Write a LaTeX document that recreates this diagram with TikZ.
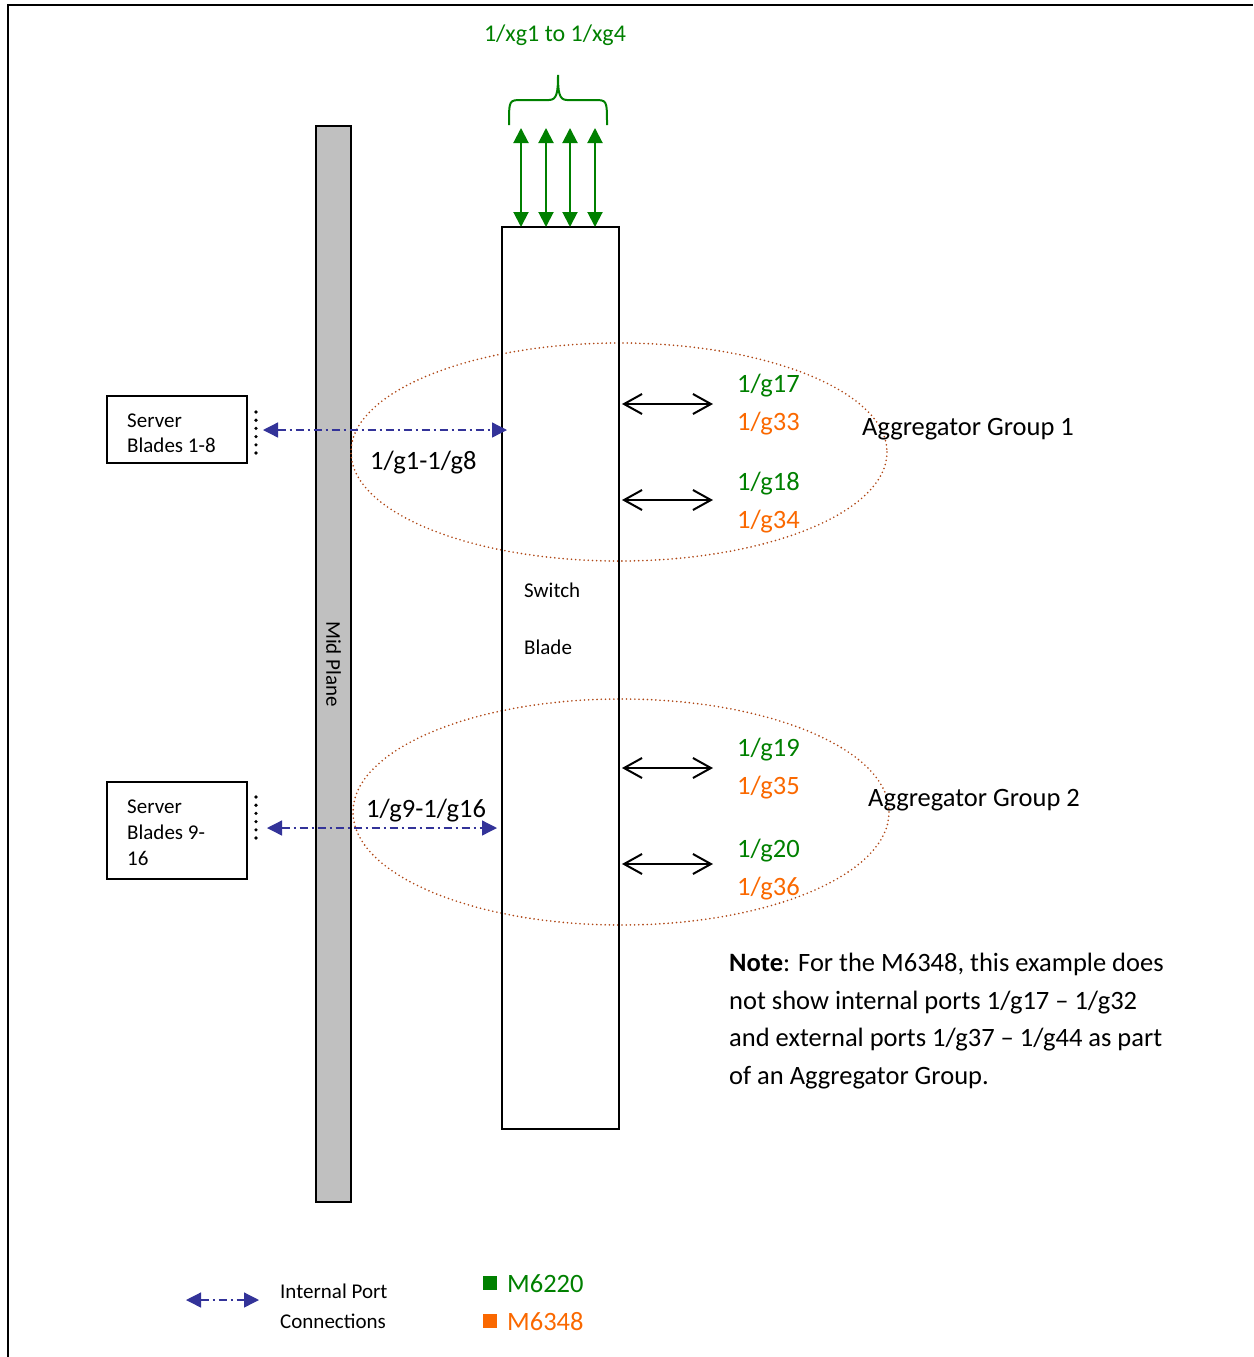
\documentclass[tikz,border=0pt]{standalone}
\usepackage{fontspec}
\setmainfont{Carlito}
\usetikzlibrary{arrows.meta}
\definecolor{pgreen}{RGB}{0,128,0}
\definecolor{porange}{RGB}{250,104,0}
\definecolor{pblue}{RGB}{51,51,153}
\definecolor{pbrown}{RGB}{175,70,20}
\definecolor{midgray}{RGB}{192,192,192}
\begin{document}
\begin{tikzpicture}[x=1pt,y=-1pt,
  big/.style={font=\fontsize{26.5}{31}\selectfont, inner sep=0pt, anchor=base west},
  small/.style={font=\fontsize{21}{25}\selectfont, inner sep=0pt, anchor=base west},
  boxnode/.style={draw, line width=1.8pt, inner sep=0pt, outer sep=0pt, anchor=north west},
  garrow/.style={pgreen, line width=2pt, {Triangle[length=15pt,width=15pt]}-{Triangle[length=15pt,width=15pt]}},
  barrow/.style={pblue, line width=1.3pt, dash pattern=on 8pt off 4pt on 2pt off 4pt, {Triangle[length=15pt,width=15pt]}-{Triangle[length=15pt,width=15pt]}},
  karrow/.style={black, line width=2pt, {Straight Barb[length=18pt,width=20pt]}-{Straight Barb[length=18pt,width=20pt]}},
  ell/.style={pbrown, line width=1.8pt, line cap=round, dash pattern=on 0pt off 4.2pt},
  vdots/.style={line width=3.6pt, line cap=round, dash pattern=on 0pt off 8.2pt},
]
\useasboundingbox (0,0) rectangle (1253,1357);
% frame
\draw[line width=2pt] (8,1357) -- (8,5) -- (1253,5);

% mid plane
\node[boxnode, fill=midgray, minimum width=35pt, minimum height=1076pt] (mid) at (316,126) {};
\node[font=\fontsize{21}{25}\selectfont, rotate=-90, inner sep=0pt] (midlbl) at (mid.center) {Mid Plane};

% ellipses
\draw[ell] (619,452) ellipse [x radius=268, y radius=109];
\draw[ell] (621,812) ellipse [x radius=268, y radius=113];

% switch blade
\node[boxnode, minimum width=117pt, minimum height=902pt] (sw) at (502,227) {};
\node[small] (swt1) at (524,597) {Switch};
\node[small] (swt2) at (524,654) {Blade};

% uplink arrows and brace
\foreach \n/\x in {1/521,2/546,3/570,4/595}{
  \coordinate (xg\n) at (\x,128);
  \draw[garrow] (xg\n) -- (xg\n |- sw.north);
}
\draw[pgreen, line width=2pt] (509,125) .. controls (509,100) .. (522,100) -- (549,100)
  .. controls (557,100) and (558,92) .. (558,75)
  .. controls (558,92) and (559,100) .. (567,100) -- (594,100)
  .. controls (607,100) .. (607,125);
\node[font=\fontsize{24}{29}\selectfont, text=pgreen, inner sep=0pt, anchor=base] (xglbl) at (555,41) {1/xg1 to 1/xg4};

% server blades
\node[boxnode, minimum width=140pt, minimum height=67pt] (srv1) at (107,396) {};
\node[small] (srv1a) at (127,427) {Server};
\node[small] (srv1b) at (127,452) {Blades 1-8};
\node[boxnode, minimum width=140pt, minimum height=97pt] (srv2) at (107,782) {};
\node[small] (srv2a) at (127,813) {Server};
\node[small] (srv2b) at (127,839) {Blades 9-};
\node[small] (srv2c) at (127,865) {16};
\coordinate (d1a) at (256,412); \coordinate (d1b) at (256,453);
\coordinate (d2a) at (256,797); \coordinate (d2b) at (256,838);
\draw[vdots] (d1a) -- (d1b);
\draw[vdots] (d2a) -- (d2b);

% internal connections
\coordinate (b1l) at (263,430); \coordinate (b1r) at (507,430);
\coordinate (b2l) at (267,828); \coordinate (b2r) at (497,828);
\draw[barrow] (b1l) -- (b1r);
\draw[barrow] (b2l) -- (b2r);
\node[big] (g1lbl) at (370,469) {1/g1-1/g8};
\node[big] (g9lbl) at (366,817) {1/g9-1/g16};

% external ports
\foreach \n/\y in {1/404,2/500,3/768,4/864}{
  \coordinate (ea\n) at (622,\y);
  \coordinate (eb\n) at (713,\y);
  \draw[karrow] (ea\n) -- (eb\n);
}
\node[big, text=pgreen] (p17) at (737,392) {1/g17};
\node[big, text=porange] (p33) at (737,430) {1/g33};
\node[big, text=pgreen] (p18) at (737,490) {1/g18};
\node[big, text=porange] (p34) at (737,528) {1/g34};
\node[big, text=pgreen] (p19) at (737,756) {1/g19};
\node[big, text=porange] (p35) at (737,794) {1/g35};
\node[big, text=pgreen] (p20) at (737,857) {1/g20};
\node[big, text=porange] (p36) at (737,895) {1/g36};
\node[big] (ag1) at (862,435) {Aggregator Group 1};
\node[big] (ag2) at (868,806) {Aggregator Group 2};

% note
\node[big] (n1) at (729,971) {\textbf{Note}: For the M6348, this example does};
\node[big] (n2) at (729,1009) {not show internal ports 1/g17 – 1/g32};
\node[big] (n3) at (729,1046) {and external ports 1/g37 – 1/g44 as part};
\node[big] (n4) at (729,1084) {of an Aggregator Group.};

% legend
\coordinate (lgl) at (186,1300); \coordinate (lgr) at (259,1300);
\draw[barrow] (lgl) -- (lgr);
\node[small] (lg1) at (280,1298) {Internal Port};
\node[small] (lg2) at (280,1328) {Connections};
\fill[pgreen] (483,1276) rectangle (497,1290);
\fill[porange] (483,1314) rectangle (497,1328);
\node[big, text=pgreen] (m1) at (507,1292) {M6220};
\node[big, text=porange] (m2) at (507,1330) {M6348};
\end{tikzpicture}
\end{document}
